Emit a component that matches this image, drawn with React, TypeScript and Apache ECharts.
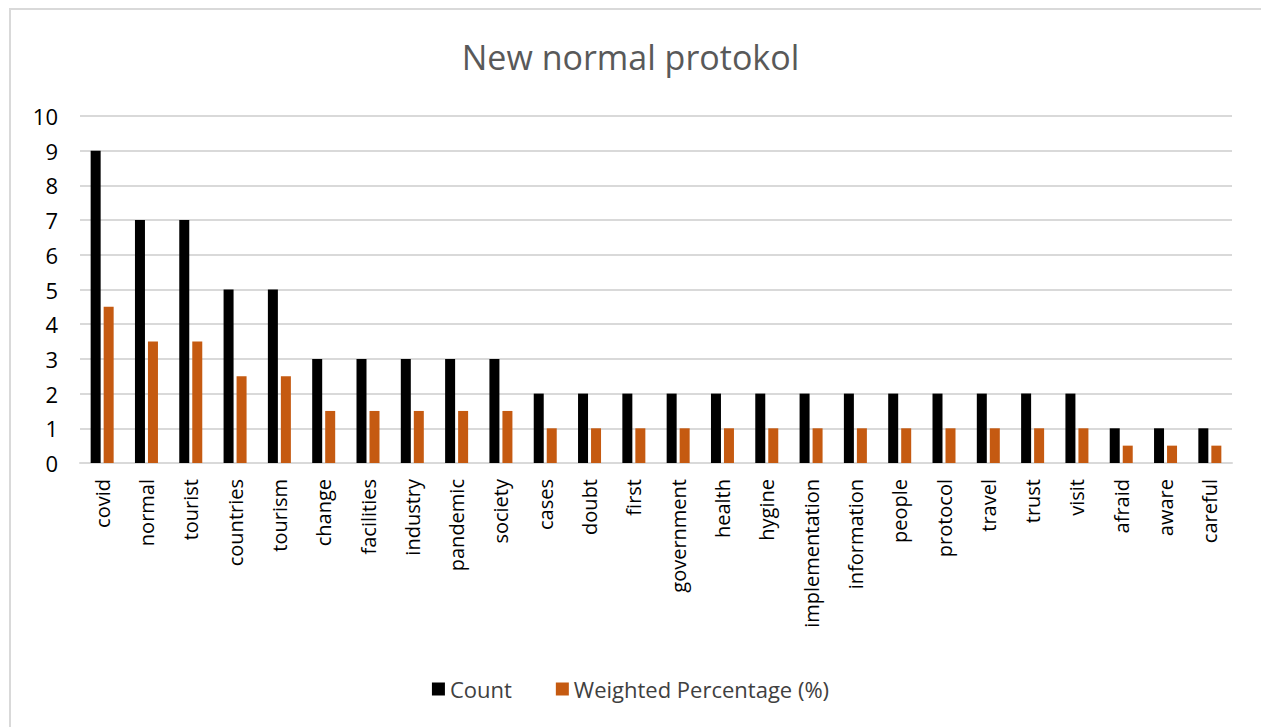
import React, { useEffect, useRef } from "react";
import * as echarts from "echarts";

const words = [
  "covid", "normal", "tourist", "countries", "tourism", "change", "facilities",
  "industry", "pandemic", "society", "cases", "doubt", "first", "government",
  "health", "hygine", "implementation", "information", "people", "protocol",
  "travel", "trust", "visit", "afraid", "aware", "careful",
];

const countValues = [9, 7, 7, 5, 5, 3, 3, 3, 3, 3, 2, 2, 2, 2, 2, 2, 2, 2, 2, 2, 2, 2, 2, 1, 1, 1];

const weightedValues = [
  4.5, 3.5, 3.5, 2.5, 2.5, 1.5, 1.5, 1.5, 1.5, 1.5, 1, 1, 1, 1, 1, 1, 1, 1, 1, 1,
  1, 1, 1, 0.5, 0.5, 0.5,
];

const FONT = "'Open Sans', 'Noto Sans', sans-serif";

export default function App() {
  const ref = useRef<HTMLDivElement>(null);

  useEffect(() => {
    document.body.style.margin = "0";
    if (!ref.current) return;
    const chart = echarts.init(ref.current, null, { renderer: "svg" });
    chart.setOption({
      animation: false,
      backgroundColor: "#ffffff",
      title: {
        text: "New normal protokol",
        left: "center",
        top: 35,
        textStyle: {
          fontFamily: FONT,
          fontSize: 34,
          fontWeight: "normal",
          color: "#595959",
        },
      },
      graphic: [
        {
          type: "rect",
          shape: { x: 10, y: 9, width: 1400, height: 900 },
          style: { fill: "none", stroke: "#d9d9d9", lineWidth: 2 },
          silent: true,
        },
      ],
      legend: {
        bottom: 22,
        left: "center",
        itemWidth: 13,
        itemHeight: 13,
        itemGap: 44,
        icon: "rect",
        textStyle: { fontFamily: FONT, fontSize: 22, color: "#404040" },
        data: ["Count", "Weighted Percentage (%)"],
      },
      grid: { left: 80, right: 29, top: 116, bottom: 264, containLabel: false },
      xAxis: {
        type: "category",
        data: words,
        axisLine: { lineStyle: { color: "#d9d9d9", width: 2 } },
        axisTick: { show: false },
        axisLabel: {
          rotate: 90,
          interval: 0,
          margin: 16,
          fontFamily: FONT,
          fontSize: 20,
          color: "#000000",
        },
      },
      yAxis: {
        type: "value",
        min: 0,
        max: 10,
        interval: 1,
        axisLine: { show: false },
        axisTick: { show: false },
        splitLine: { lineStyle: { color: "#d9d9d9", width: 2 } },
        axisLabel: {
          margin: 22,
          fontFamily: FONT,
          fontSize: 22,
          color: "#000000",
        },
      },
      series: [
        {
          name: "Count",
          type: "bar",
          data: countValues,
          barWidth: 10,
          barGap: "30%",
          itemStyle: { color: "#000000" },
        },
        {
          name: "Weighted Percentage (%)",
          type: "bar",
          data: weightedValues,
          barWidth: 10,
          itemStyle: { color: "#c55a11" },
        },
      ],
    });
    return () => chart.dispose();
  }, []);

  return (
    <div
      ref={ref}
      style={{ position: "absolute", left: 0, top: 0, width: 1261, height: 727 }}
    />
  );
}
